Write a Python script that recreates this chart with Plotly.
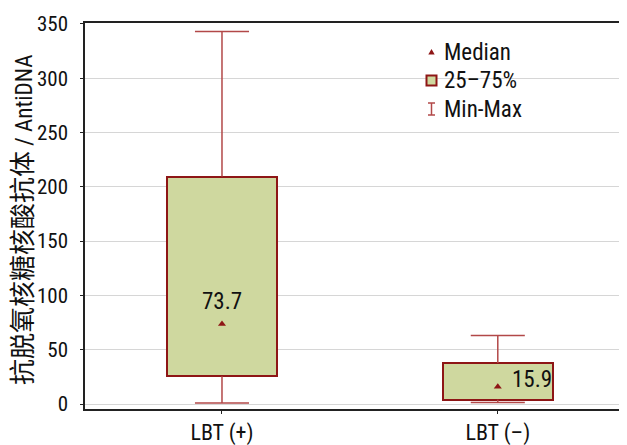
import plotly.graph_objects as go

# ---- data ----
categories = ["LBT (+)", "LBT (–)"]
mins = [0.9, 1.5]
q1 = [25.5, 4.0]
medians = [73.7, 15.9]
q3 = [209.5, 37.8]
maxs = [343.0, 63.0]
y_ticks = [0, 50, 100, 150, 200, 250, 300, 350]
legend_labels = ["Median", "25–75%", "Min-Max"]
y_title_cjk = "抗脱氧核糖核酸抗体"
y_title_lat = " / AntiDNA"

# ---- style ----
FONT = "Liberation Sans Narrow, Roboto Condensed, DejaVu Sans Condensed, Noto Sans CJK SC, sans-serif"
FILL = "#CFD89F"
EDGE = "#8E1616"
WHISK = "#B24848"
OFF = 8                       # page body margin of the browser
PAGE_W, PAGE_H = 627, 445
W, H = PAGE_W - OFF, PAGE_H - OFF
PL, PR, PT, PB = 85, 627, 23, 409   # plot area in page pixels
ML, MT = PL - OFF, PT - OFF
MR = PAGE_W - PR
MB = PAGE_H - PB
BOX_W = 0.4
CAP_HALF = 0.098

x = list(range(len(categories)))

fig = go.Figure()

# boxes (25-75%)
fig.add_trace(go.Bar(
    x=x, y=[b - a for a, b in zip(q1, q3)], base=q1, width=BOX_W,
    marker=dict(color=FILL, line=dict(color=EDGE, width=2)),
    showlegend=False, hoverinfo="skip"))

# whiskers + caps
wx, wy = [], []
for i in x:
    wx += [i, i, None, i, i, None,
           i - CAP_HALF, i + CAP_HALF, None, i - CAP_HALF, i + CAP_HALF, None]
    wy += [q3[i], maxs[i], None, mins[i], q1[i], None,
           maxs[i], maxs[i], None, mins[i], mins[i], None]
fig.add_trace(go.Scatter(x=wx, y=wy, mode="lines",
                         line=dict(color=WHISK, width=1.5),
                         showlegend=False, hoverinfo="skip"))

# medians
fig.add_trace(go.Scatter(x=x, y=medians, mode="markers",
                         marker=dict(symbol="triangle-up", size=7, color=EDGE),
                         showlegend=False))

# median labels
label_pos = [dict(xanchor="center", xshift=0, yshift=22),
             dict(xanchor="left", xshift=12, yshift=7)]
for i in x:
    fig.add_annotation(x=i, y=medians[i], text=f"{medians[i]:.1f}", showarrow=False,
                       yanchor="middle", font=dict(size=23, color="#111", family=FONT),
                       **label_pos[i])

# ---- helpers: page pixel -> paper coords ----
def px2x(p):
    return (p - PL) / (PR - PL)

def px2y(p):
    return (PB - p) / (PB - PT)

# y-axis title
fig.add_annotation(x=px2x(23), y=px2y(220), xref="paper", yref="paper",
                   text=f'<span style="font-size:26px">{y_title_cjk}</span>'
                        f'<span style="font-size:23px">{y_title_lat}</span>',
                   textangle=-90, showarrow=False,
                   xanchor="center", yanchor="middle",
                   font=dict(size=23, color="#111", family=FONT))

# ---- legend (drawn manually) ----
leg_text_x = 441.5
leg_rows = [52, 80.5, 109]
for lab, ry in zip(legend_labels, leg_rows):
    fig.add_annotation(x=px2x(leg_text_x), y=px2y(ry), xref="paper", yref="paper",
                       text=lab, showarrow=False, xanchor="left", yanchor="middle",
                       font=dict(size=23, color="#111", family=FONT))
sx = 431.5
r0 = leg_rows[0]
fig.add_shape(type="path", xref="paper", yref="paper",
              path=f"M {px2x(sx-3.2)} {px2y(r0+2.5)} L {px2x(sx+3.2)} {px2y(r0+2.5)} L {px2x(sx)} {px2y(r0-3)} Z",
              fillcolor=EDGE, line=dict(width=0))
r1 = leg_rows[1]
fig.add_shape(type="rect", xref="paper", yref="paper",
              x0=px2x(sx - 5), x1=px2x(sx + 5), y0=px2y(r1 + 5), y1=px2y(r1 - 5),
              fillcolor=FILL, line=dict(color=EDGE, width=2))
r2 = leg_rows[2]
for (xa, ya, xb, yb) in [(sx, r2 - 6, sx, r2 + 6),
                         (sx - 3.5, r2 - 6, sx + 3.5, r2 - 6),
                         (sx - 3.5, r2 + 6, sx + 3.5, r2 + 6)]:
    fig.add_shape(type="line", xref="paper", yref="paper",
                  x0=px2x(xa), y0=px2y(ya), x1=px2x(xb), y1=px2y(yb),
                  line=dict(color=WHISK, width=1.5))

fig.update_layout(
    width=W, height=H,
    margin=dict(l=ML, r=MR, t=MT, b=MB),
    plot_bgcolor="white", paper_bgcolor="white",
    font=dict(family=FONT, size=23, color="#111"),
    showlegend=False,
    bargap=0,
)
fig.update_xaxes(
    range=[-0.4967, 1.4685], tickvals=x, ticktext=categories,
    showline=True, linecolor="#222", linewidth=1.5, mirror=True,
    ticks="outside", ticklen=3, tickcolor="#222",
    showgrid=False, zeroline=False,
    tickfont=dict(size=22, family=FONT, color="#111"),
)
fig.update_yaxes(
    range=[-4.6, 350.9], tickvals=y_ticks,
    showline=True, linecolor="#222", linewidth=1.5,
    ticks="outside", ticklen=3, tickcolor="#222",
    showgrid=True, gridcolor="#D6D6D6", gridwidth=1, zeroline=False,
    tickfont=dict(size=21, family=FONT, color="#111"),
    ticklabelstandoff=8,
)

fig.write_html("out.html")
